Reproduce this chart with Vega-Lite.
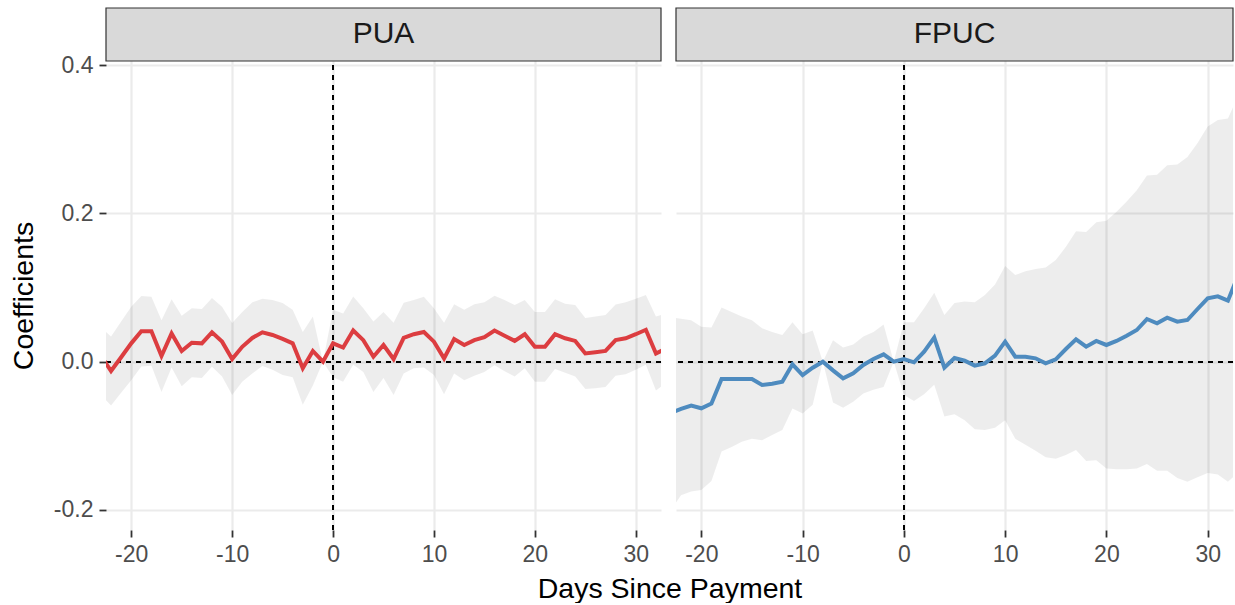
{
  "$schema": "https://vega.github.io/schema/vega-lite/v6.json",
  "padding": {"left": 9, "top": 7, "right": 0, "bottom": 0},
  "background": "white",
  "config": {
    "view": {"stroke": null},
    "font": "Liberation Sans",
    "axis": {
      "grid": true, "gridColor": "#ebebeb", "gridWidth": 2.2,
      "domain": false, "tickColor": "#333333", "tickWidth": 1.8, "tickSize": 7,
      "labelFontSize": 23, "labelColor": "#4d4d4d", "labelFont": "Liberation Sans", "labelPadding": 6,
      "titleFontSize": 28.5, "titleFont": "Liberation Sans", "titleFontWeight": "normal", "titleColor": "#000000"
    }
  },
  "datasets": {
    "pua": [
      {"day": -23, "coef": 0.008, "lo": -0.045, "hi": 0.046},
      {"day": -22, "coef": -0.0126, "lo": -0.059, "hi": 0.034},
      {"day": -21, "coef": 0.006, "lo": -0.042, "hi": 0.054},
      {"day": -20, "coef": 0.0247, "lo": -0.025, "hi": 0.074},
      {"day": -19, "coef": 0.041, "lo": -0.0065, "hi": 0.0885},
      {"day": -18, "coef": 0.041, "lo": -0.0056, "hi": 0.0876},
      {"day": -17, "coef": 0.0076, "lo": -0.041, "hi": 0.056},
      {"day": -16, "coef": 0.038, "lo": -0.008, "hi": 0.084},
      {"day": -15, "coef": 0.0144, "lo": -0.033, "hi": 0.062},
      {"day": -14, "coef": 0.0256, "lo": -0.021, "hi": 0.072},
      {"day": -13, "coef": 0.0247, "lo": -0.022, "hi": 0.071},
      {"day": -12, "coef": 0.0396, "lo": -0.007, "hi": 0.086},
      {"day": -11, "coef": 0.027, "lo": -0.02, "hi": 0.074},
      {"day": -10, "coef": 0.0036, "lo": -0.045, "hi": 0.052},
      {"day": -9, "coef": 0.02, "lo": -0.027, "hi": 0.067},
      {"day": -8, "coef": 0.032, "lo": -0.016, "hi": 0.08},
      {"day": -7, "coef": 0.0396, "lo": -0.006, "hi": 0.085},
      {"day": -6, "coef": 0.036, "lo": -0.011, "hi": 0.083},
      {"day": -5, "coef": 0.0306, "lo": -0.018, "hi": 0.079},
      {"day": -4, "coef": 0.0247, "lo": -0.021, "hi": 0.07},
      {"day": -3, "coef": -0.009, "lo": -0.058, "hi": 0.04},
      {"day": -2, "coef": 0.0144, "lo": -0.032, "hi": 0.061},
      {"day": -1, "coef": 0, "lo": 0, "hi": 0},
      {"day": 0, "coef": 0.0247, "lo": -0.021, "hi": 0.07},
      {"day": 1, "coef": 0.019, "lo": -0.027, "hi": 0.065},
      {"day": 2, "coef": 0.042, "lo": -0.004, "hi": 0.088},
      {"day": 3, "coef": 0.029, "lo": -0.014, "hi": 0.072},
      {"day": 4, "coef": 0.0067, "lo": -0.041, "hi": 0.054},
      {"day": 5, "coef": 0.0225, "lo": -0.022, "hi": 0.067},
      {"day": 6, "coef": 0.0036, "lo": -0.045, "hi": 0.0526},
      {"day": 7, "coef": 0.032, "lo": -0.016, "hi": 0.0796},
      {"day": 8, "coef": 0.037, "lo": -0.009, "hi": 0.083},
      {"day": 9, "coef": 0.04, "lo": -0.008, "hi": 0.0876},
      {"day": 10, "coef": 0.027, "lo": -0.018, "hi": 0.072},
      {"day": 11, "coef": 0.0045, "lo": -0.044, "hi": 0.0526},
      {"day": 12, "coef": 0.0306, "lo": -0.016, "hi": 0.0773},
      {"day": 13, "coef": 0.0225, "lo": -0.025, "hi": 0.07},
      {"day": 14, "coef": 0.029, "lo": -0.019, "hi": 0.0773},
      {"day": 15, "coef": 0.033, "lo": -0.014, "hi": 0.08},
      {"day": 16, "coef": 0.042, "lo": -0.005, "hi": 0.089},
      {"day": 17, "coef": 0.035, "lo": -0.013, "hi": 0.083},
      {"day": 18, "coef": 0.028, "lo": -0.02, "hi": 0.0764},
      {"day": 19, "coef": 0.037, "lo": -0.009, "hi": 0.083},
      {"day": 20, "coef": 0.02, "lo": -0.027, "hi": 0.067},
      {"day": 21, "coef": 0.02, "lo": -0.027, "hi": 0.067},
      {"day": 22, "coef": 0.037, "lo": -0.01, "hi": 0.084},
      {"day": 23, "coef": 0.0315, "lo": -0.015, "hi": 0.078},
      {"day": 24, "coef": 0.028, "lo": -0.02, "hi": 0.0764},
      {"day": 25, "coef": 0.011, "lo": -0.037, "hi": 0.059},
      {"day": 26, "coef": 0.0126, "lo": -0.036, "hi": 0.061},
      {"day": 27, "coef": 0.0144, "lo": -0.034, "hi": 0.063},
      {"day": 28, "coef": 0.029, "lo": -0.019, "hi": 0.077},
      {"day": 29, "coef": 0.0315, "lo": -0.017, "hi": 0.08},
      {"day": 30, "coef": 0.037, "lo": -0.011, "hi": 0.085},
      {"day": 31, "coef": 0.043, "lo": -0.004, "hi": 0.09},
      {"day": 32, "coef": 0.011, "lo": -0.039, "hi": 0.061},
      {"day": 33, "coef": 0.018, "lo": -0.029, "hi": 0.065}
    ],
    "fpuc": [
      {"day": -23, "coef": -0.069, "lo": -0.2, "hi": 0.06},
      {"day": -22, "coef": -0.0638, "lo": -0.18, "hi": 0.058},
      {"day": -21, "coef": -0.0593, "lo": -0.175, "hi": 0.056},
      {"day": -20, "coef": -0.0629, "lo": -0.173, "hi": 0.047},
      {"day": -19, "coef": -0.0566, "lo": -0.161, "hi": 0.046},
      {"day": -18, "coef": -0.0234, "lo": -0.121, "hi": 0.073},
      {"day": -17, "coef": -0.0234, "lo": -0.115, "hi": 0.067},
      {"day": -16, "coef": -0.0234, "lo": -0.108, "hi": 0.061},
      {"day": -15, "coef": -0.0234, "lo": -0.104, "hi": 0.056},
      {"day": -14, "coef": -0.0315, "lo": -0.106, "hi": 0.045},
      {"day": -13, "coef": -0.0297, "lo": -0.099, "hi": 0.04},
      {"day": -12, "coef": -0.027, "lo": -0.092, "hi": 0.036},
      {"day": -11, "coef": -0.0036, "lo": -0.063, "hi": 0.053},
      {"day": -10, "coef": -0.018, "lo": -0.07, "hi": 0.037},
      {"day": -9, "coef": -0.0081, "lo": -0.058, "hi": 0.042},
      {"day": -8, "coef": 0, "lo": 0, "hi": 0},
      {"day": -7, "coef": -0.0117, "lo": -0.055, "hi": 0.029},
      {"day": -6, "coef": -0.0225, "lo": -0.062, "hi": 0.019},
      {"day": -5, "coef": -0.0157, "lo": -0.054, "hi": 0.023},
      {"day": -4, "coef": -0.0045, "lo": -0.043, "hi": 0.034},
      {"day": -3, "coef": 0.0036, "lo": -0.038, "hi": 0.04},
      {"day": -2, "coef": 0.0099, "lo": -0.034, "hi": 0.05},
      {"day": -1, "coef": 0, "lo": 0, "hi": 0},
      {"day": 0, "coef": 0.0036, "lo": -0.045, "hi": 0.053},
      {"day": 1, "coef": -0.0009, "lo": -0.053, "hi": 0.053},
      {"day": 2, "coef": 0.0135, "lo": -0.044, "hi": 0.072},
      {"day": 3, "coef": 0.0324, "lo": -0.031, "hi": 0.093},
      {"day": 4, "coef": -0.0081, "lo": -0.074, "hi": 0.063},
      {"day": 5, "coef": 0.005, "lo": -0.071, "hi": 0.079},
      {"day": 6, "coef": 0.0013, "lo": -0.079, "hi": 0.081},
      {"day": 7, "coef": -0.0054, "lo": -0.091, "hi": 0.08},
      {"day": 8, "coef": -0.0022, "lo": -0.092, "hi": 0.09},
      {"day": 9, "coef": 0.0081, "lo": -0.089, "hi": 0.104},
      {"day": 10, "coef": 0.027, "lo": -0.079, "hi": 0.129},
      {"day": 11, "coef": 0.0067, "lo": -0.104, "hi": 0.117},
      {"day": 12, "coef": 0.0067, "lo": -0.112, "hi": 0.122},
      {"day": 13, "coef": 0.0045, "lo": -0.12, "hi": 0.125},
      {"day": 14, "coef": -0.0022, "lo": -0.129, "hi": 0.127},
      {"day": 15, "coef": 0.0031, "lo": -0.131, "hi": 0.137},
      {"day": 16, "coef": 0.0171, "lo": -0.126, "hi": 0.155},
      {"day": 17, "coef": 0.0301, "lo": -0.119, "hi": 0.176},
      {"day": 18, "coef": 0.0202, "lo": -0.134, "hi": 0.175},
      {"day": 19, "coef": 0.0279, "lo": -0.133, "hi": 0.188},
      {"day": 20, "coef": 0.0225, "lo": -0.144, "hi": 0.19},
      {"day": 21, "coef": 0.0279, "lo": -0.145, "hi": 0.202},
      {"day": 22, "coef": 0.035, "lo": -0.145, "hi": 0.216},
      {"day": 23, "coef": 0.0427, "lo": -0.144, "hi": 0.231},
      {"day": 24, "coef": 0.0575, "lo": -0.138, "hi": 0.251},
      {"day": 25, "coef": 0.0517, "lo": -0.147, "hi": 0.252},
      {"day": 26, "coef": 0.0593, "lo": -0.147, "hi": 0.265},
      {"day": 27, "coef": 0.0539, "lo": -0.157, "hi": 0.266},
      {"day": 28, "coef": 0.0562, "lo": -0.162, "hi": 0.276},
      {"day": 29, "coef": 0.071, "lo": -0.156, "hi": 0.295},
      {"day": 30, "coef": 0.0854, "lo": -0.15, "hi": 0.317},
      {"day": 31, "coef": 0.088, "lo": -0.152, "hi": 0.326},
      {"day": 32, "coef": 0.0822, "lo": -0.162, "hi": 0.328},
      {"day": 33, "coef": 0.116, "lo": -0.15, "hi": 0.358}
    ]
  },
  "hconcat": [
    {
      "width": 555, "height": 522,
      "data": {"name": "pua"},
      "layer": [
        {
          "mark": {"type": "area", "color": "#000000", "opacity": 0.07, "clip": true},
          "encoding": {
            "x": {"field": "day", "type": "quantitative",
              "scale": {"domain": [-22.5, 32.5], "nice": false, "zero": false},
              "axis": {"values": [-20, -10, 0, 10, 20, 30], "title": "Days Since Payment", "titleX": 563.5, "titlePadding": 8,
                "labelExpr": "replace(datum.label, '\u2212', '-')"}},
            "y": {"field": "lo", "type": "quantitative",
              "scale": {"domain": [-0.227, 0.4769], "nice": false, "zero": false},
              "axis": {"values": [-0.2, 0, 0.2, 0.4], "format": ".1f", "title": "Coefficients", "titleY": 287.5, "titlePadding": 15,
                "labelExpr": "replace(datum.label, '\u2212', '-')"}},
            "y2": {"field": "hi"}
          }
        },
        {
          "mark": {"type": "rule", "color": "#000000", "strokeDash": [5, 5], "strokeWidth": 1.3},
          "encoding": {"y": {"datum": 0}}
        },
        {
          "mark": {"type": "rule", "color": "#000000", "strokeDash": [5, 5], "strokeWidth": 1.3},
          "encoding": {"x": {"datum": 0}, "y": {"datum": -0.227}, "y2": {"datum": 0.4054}}
        },
        {
          "mark": {"type": "line", "color": "#DC3D40", "strokeWidth": 4, "clip": true},
          "encoding": {
            "x": {"field": "day", "type": "quantitative"},
            "y": {"field": "coef", "type": "quantitative"}
          }
        },
        {
          "data": {"values": [{"panel": "PUA"}]},
          "mark": {"type": "rect", "fill": "#d9d9d9", "stroke": "#333333", "strokeWidth": 1.2},
          "encoding": {"x": {"datum": -22.5}, "x2": {"datum": 32.5}, "y": {"datum": 0.4054}, "y2": {"datum": 0.4769}}
        },
        {
          "data": {"values": [{"panel": "PUA"}]},
          "mark": {"type": "text", "fontSize": 30, "color": "#1a1a1a", "font": "Liberation Sans", "baseline": "middle", "align": "center"},
          "encoding": {"x": {"datum": 5}, "y": {"datum": 0.4412}, "text": {"field": "panel"}}
        }
      ]
    },
    {
      "width": 557, "height": 522,
      "data": {"name": "fpuc"},
      "layer": [
        {
          "mark": {"type": "area", "color": "#000000", "opacity": 0.07, "clip": true},
          "encoding": {
            "x": {"field": "day", "type": "quantitative",
              "scale": {"domain": [-22.5, 32.5], "nice": false, "zero": false},
              "axis": {"values": [-20, -10, 0, 10, 20, 30], "title": null,
                "labelExpr": "replace(datum.label, '\u2212', '-')"}},
            "y": {"field": "lo", "type": "quantitative",
              "scale": {"domain": [-0.227, 0.4769], "nice": false, "zero": false},
              "axis": {"values": [-0.2, 0, 0.2, 0.4], "title": null, "labels": false, "ticks": false}},
            "y2": {"field": "hi"}
          }
        },
        {
          "mark": {"type": "rule", "color": "#000000", "strokeDash": [5, 5], "strokeWidth": 1.3},
          "encoding": {"y": {"datum": 0}}
        },
        {
          "mark": {"type": "rule", "color": "#000000", "strokeDash": [5, 5], "strokeWidth": 1.3},
          "encoding": {"x": {"datum": 0}, "y": {"datum": -0.227}, "y2": {"datum": 0.4054}}
        },
        {
          "mark": {"type": "line", "color": "#4E8BBF", "strokeWidth": 4, "clip": true},
          "encoding": {
            "x": {"field": "day", "type": "quantitative"},
            "y": {"field": "coef", "type": "quantitative"}
          }
        },
        {
          "data": {"values": [{"panel": "FPUC"}]},
          "mark": {"type": "rect", "fill": "#d9d9d9", "stroke": "#333333", "strokeWidth": 1.2},
          "encoding": {"x": {"datum": -22.5}, "x2": {"datum": 32.5}, "y": {"datum": 0.4054}, "y2": {"datum": 0.4769}}
        },
        {
          "data": {"values": [{"panel": "FPUC"}]},
          "mark": {"type": "text", "fontSize": 30, "color": "#1a1a1a", "font": "Liberation Sans", "baseline": "middle", "align": "center"},
          "encoding": {"x": {"datum": 5}, "y": {"datum": 0.4412}, "text": {"field": "panel"}}
        }
      ]
    }
  ],
  "spacing": 15,
  "bounds": "flush"
}
